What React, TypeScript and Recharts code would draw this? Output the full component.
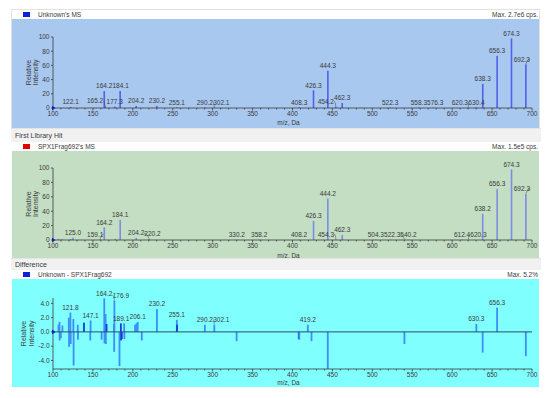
import React from 'react';
import { BarChart, Bar, XAxis, YAxis, LabelList, ReferenceLine, ReferenceDot } from 'recharts';

// ---------------- data ----------------
const unknownMz = [122.1, 164.2, 165.2, 177.3, 184.1, 204.2, 230.2, 255.1, 290.2, 302.1, 408.3, 426.3, 444.3, 454.2, 462.3, 522.3, 558.3, 576.3, 620.3, 630.4, 638.3, 656.3, 674.3, 692.3];
const unknownIntensity = [1.5, 24, 3, 2, 24, 3, 3, 0.8, 0.6, 0.6, 0.8, 25, 52.5, 2, 7, 0.6, 0.6, 0.6, 0.6, 0.8, 34, 73.5, 98, 61.5];
const unknownLabels = ['122.1', '164.2', '165.2', '177.3', '184.1', '204.2', '230.2', '255.1', '290.2', '302.1', '408.3', '426.3', '444.3', '454.2', '462.3', '522.3', '558.3', '576.3', '620.3', '630.4', '638.3', '656.3', '674.3', '692.3'];

const libraryMz = [107.0, 111.0, 122.0, 125.0, 159.1, 164.2, 178.0, 184.1, 204.2, 220.2, 330.2, 358.2, 408.2, 426.3, 444.2, 454.3, 462.3, 504.3, 522.3, 540.2, 612.4, 620.3, 638.2, 656.3, 674.3, 692.3];
const libraryIntensity = [1.5, 1.2, 1.5, 3.3, 1, 17.7, 1.5, 28, 3, 2, 0.5, 0.5, 0.5, 26.5, 57.6, 1, 7, 0.5, 0.5, 0.5, 0.5, 0.5, 36.3, 70.7, 98, 64.2];
const libraryLabels = ['125.0', '159.1', '164.2', '184.1', '204.2', '220.2', '330.2', '358.2', '408.2', '426.3', '444.2', '454.3', '462.3', '504.3', '522.3', '540.2', '612.4', '620.3', '638.2', '656.3', '674.3', '692.3'];

const diffMz = [106.9, 108.1, 108.3, 109.8, 111.8, 119.8, 120.1, 121.8, 122.2, 125.5, 125.8, 131.0, 131.3, 146.7, 147.1, 160.9, 164.2, 164.5, 165.9, 166.2, 176.3, 176.6, 176.9, 183.3, 189.1, 189.4, 202.8, 204.5, 206.1, 211.2, 230.2, 255.1, 290.2, 302.1, 330.0, 408.5, 419.2, 423.8, 444.2, 540.2, 630.3, 638.2, 656.3, 692.3];
const diffValue = [1.0, 1.4, -1.2, -0.9, 0.9, 2.0, -2.1, 2.7, -1.7, 1.8, -4.7, 1.0, -1.1, -1.2, 1.6, -1.1, 4.7, -1.6, 2.5, -1.7, 1.1, -2.8, 4.4, -4.8, 1.2, -1.0, 1.0, 1.2, 1.4, -1.2, 3.2, 1.7, 1.0, 1.0, -1.3, -1.1, 1.0, -1.3, -5.2, -1.7, 1.1, -2.9, 3.4, -3.4];
const diffLabels = ['121.8', '147.1', '164.2', '176.9', '189.1', '206.1', '230.2', '255.1', '290.2', '302.1', '419.2', '630.3', '656.3'];
const overlapMz = [138.8, 167.1, 185.0, 185.3, 186.2, 255.4, 407.9];
const overlapValue = [1.3, 1.1, 1.2, -1.2, -1.0, 1.0, -1.0];

const xMajorTicks = [100, 150, 200, 250, 300, 350, 400, 450, 500, 550, 600, 650, 700];
const xMinorStep = 10;
const intensityTicks = [0, 20, 40, 60, 80, 100];
const diffTicks = [-4, -2, 0, 2, 4];

// ---------------- layout ----------------
const X_MIN = 100;
const X_MAX = 700;
const CHART_W = 527;
const Y_AXIS_W = 41;
const MARGIN_R = 7;
const PLOT_W = CHART_W - Y_AXIS_W - MARGIN_R;
const FONT = 'Arial, "Liberation Sans", sans-serif';
const AXIS = '#3a3a3a';
const TEXT = '#3a3a3a';

const xTicks: number[] = [];
for (let v = X_MIN; v <= X_MAX; v += xMinorStep) xTicks.push(v);

type Row = { mz: number; value: number; label: string; overlap: boolean };

function buildRows(mz: number[], val: number[], labels: string[], overlap = false): Row[] {
  return mz.map((m, i) => {
    const s = m.toFixed(1);
    return { mz: m, value: val[i], label: labels.includes(s) ? s : '', overlap };
  });
}

function textWidth(s: string, fs = 6.5) {
  let w = 0;
  for (const ch of s) w += ch === '.' || ch === ',' ? 0.278 : 0.556;
  return w * fs;
}

// label placement: avoid other labels and bars standing right next to the own peak
function layoutLabels(rows: Row[], sy: number): Map<string, number> {
  const sx = PLOT_W / (X_MAX - X_MIN);
  const px = (m: number) => (m - X_MIN) * sx;
  const bars = rows.map((r, i) => ({ i, x: px(r.mz), top: Math.max(r.value, 0) * sy }));
  const placed: { l: number; r: number; b: number; t: number }[] = [];
  const out = new Map<string, number>();
  const candidates: { s: number; c: number }[] = [{ s: 0, c: 0 }];
  for (let k = 0.5; k <= 30; k += 0.5) {
    candidates.push({ s: -k, c: k });
    candidates.push({ s: k, c: k + 3 });
  }
  candidates.sort((a, b) => a.c - b.c);
  const order = rows
    .map((_, i) => i)
    .filter((i) => rows[i].label)
    .sort((a, b) => rows[b].value - rows[a].value || a - b);
  for (const i of order) {
    const r = rows[i];
    const cx = px(r.mz);
    const w = textWidth(r.label);
    const mid = Math.max(r.value, 0) * sy + 5;
    const b = mid - 3;
    const t = mid + 3;
    const near = bars.filter((bb) => bb.i !== i && Math.abs(bb.x - cx) < 5 && bb.top > b);
    const fits = (s: number, withBars: boolean) => {
      const l = cx + s - w / 2;
      const rr = cx + s + w / 2;
      if (rr > PLOT_W - 2 || l < 0) return false;
      if (placed.some((p) => l < p.r && rr > p.l && b < p.t && t > p.b)) return false;
      if (withBars && near.some((bb) => bb.x > l - 0.6 && bb.x < rr + 0.6)) return false;
      return true;
    };
    let chosen: number | null = null;
    for (const withBars of [true, false]) {
      for (const cand of candidates) {
        if (fits(cand.s, withBars)) {
          chosen = cand.s;
          break;
        }
      }
      if (chosen !== null) break;
    }
    const s = chosen ?? 0;
    out.set(r.label, s);
    placed.push({ l: cx + s - w / 2, r: cx + s + w / 2, b, t });
  }
  return out;
}

const XTick = (p: any) => {
  const { x, y, payload } = p;
  const v = payload.value;
  const major = xMajorTicks.includes(v);
  return (
    <g>
      <line x1={x} x2={x} y1={y} y2={y + (major ? 2.5 : 1.5)} stroke={AXIS} strokeWidth={0.8} />
      {major && (
        <text x={x} y={y + 8.3} textAnchor="middle" fontSize={6.5} fill={TEXT} fontFamily={FONT}>
          {v}
        </text>
      )}
    </g>
  );
};

type PanelProps = {
  rows: Row[];
  top: number;
  height: number;
  marginTop: number;
  xAxisH: number;
  bg: string;
  color: string;
  overlapColor?: string;
  barW: number;
  domain: [number, number];
  yTicks: number[];
  yFmt: (v: number) => string;
  yLabelOffsets: [number, number];
  xLabelDy: number;
  zeroLine?: boolean;
};

function SpectrumPanel(props: PanelProps) {
  const { rows, top, height, marginTop, xAxisH, bg, color, overlapColor, barW, domain, yTicks, yFmt, yLabelOffsets, xLabelDy, zeroLine } = props;
  const plotH = height - marginTop - xAxisH;
  const sy = plotH / (domain[1] - domain[0]);
  const dxMap = layoutLabels(rows, sy);

  const shape = (p: any) => {
    const x = Number(p.x);
    const w = Number(p.width) || 0;
    const y = Number(p.y);
    const h = Number(p.height) || 0;
    if (!isFinite(x) || !isFinite(y)) return <g />;
    const cx = x + w / 2;
    const topY = Math.min(y, y + h);
    const hh = Math.max(Math.abs(h), 0.6);
    const c = p.payload && p.payload.overlap && overlapColor ? overlapColor : color;
    return <rect x={cx - barW / 2} y={topY} width={barW} height={hh} fill={c} />;
  };

  const labelContent = (p: any) => {
    const value = p.value;
    if (!value) return null;
    const vb = p.viewBox && p.viewBox.x !== undefined ? p.viewBox : p;
    const x = Number(vb.x ?? p.x);
    const w = Number(vb.width ?? p.width) || 0;
    const y = Number(vb.y ?? p.y);
    const h = Number(vb.height ?? p.height) || 0;
    if (!isFinite(x) || !isFinite(y)) return null;
    const cx = x + w / 2;
    const topY = Math.min(y, y + h);
    const dx = dxMap.get(value) ?? 0;
    const tx = cx + dx;
    const ty = topY - 2.7;
    const tw = textWidth(value);
    let leader = null;
    if (Math.abs(dx) > 3) {
      const ex = dx < 0 ? tx + tw / 2 + 0.3 : tx - tw / 2 - 0.3;
      leader = (
        <path
          d={`M${ex},${ty - 2.2} Q${(ex + cx) / 2},${ty - 3.2} ${cx},${topY - 0.4}`}
          fill="none"
          stroke="#555"
          strokeWidth={0.6}
        />
      );
    }
    return (
      <g>
        {leader}
        <text x={tx} y={ty} textAnchor="middle" fontSize={6.5} fill={TEXT} fontFamily={FONT}>
          {value}
        </text>
      </g>
    );
  };

  const yLabel = (p: any) => {
    const vb = p.viewBox || { x: 0, y: marginTop, width: Y_AXIS_W, height: plotH };
    const cy = vb.y + vb.height / 2;
    return (
      <g>
        {['Relative', 'Intensity'].map((t, i) => {
          const lx = vb.x + yLabelOffsets[i];
          return (
            <text
              key={t}
              x={lx}
              y={cy}
              transform={`rotate(-90 ${lx} ${cy})`}
              textAnchor="middle"
              dominantBaseline="central"
              fontSize={7}
              fill={TEXT}
              fontFamily={FONT}
            >
              {t}
            </text>
          );
        })}
      </g>
    );
  };

  const xLabel = (p: any) => {
    const vb = p.viewBox || { x: Y_AXIS_W, y: marginTop + plotH, width: PLOT_W, height: xAxisH };
    return (
      <text x={vb.x + vb.width / 2 - 4} y={vb.y + xLabelDy} textAnchor="middle" fontSize={6.5} fill={TEXT} fontFamily={FONT}>
        m/z, Da
      </text>
    );
  };

  return (
    <div style={{ position: 'absolute', left: 12, top, width: CHART_W, height, background: bg }}>
      <BarChart width={CHART_W} height={height} data={rows} margin={{ top: marginTop, right: MARGIN_R, bottom: 0, left: 0 }}>
        <XAxis
          type="number"
          dataKey="mz"
          domain={[X_MIN, X_MAX]}
          ticks={xTicks}
          interval={0}
          tickLine={false}
          tickSize={0}
          tickMargin={0}
          tick={(tp: any) => <XTick {...tp} />}
          axisLine={{ stroke: AXIS, strokeWidth: 0.8 }}
          height={xAxisH}
          allowDataOverflow
          label={xLabel}
        />
        <YAxis
          type="number"
          domain={domain}
          ticks={yTicks}
          interval={0}
          width={Y_AXIS_W}
          tickSize={2}
          tickMargin={1.5}
          tickFormatter={yFmt}
          tick={{ fontSize: 6.5, fill: TEXT, fontFamily: FONT }}
          axisLine={{ stroke: AXIS, strokeWidth: 0.8 }}
          tickLine={{ stroke: AXIS, strokeWidth: 0.8 }}
          allowDataOverflow
          label={yLabel}
        />
        {zeroLine && <ReferenceLine y={0} stroke="#2c4a64" strokeWidth={1} />}
        <Bar dataKey="value" isAnimationActive={false} shape={shape}>
          <LabelList dataKey="label" content={labelContent} />
        </Bar>
        <ReferenceDot
          x={X_MIN}
          y={0}
          r={2}
          ifOverflow="visible"
          shape={(p: any) => (
            <polygon
              points={`${p.cx - 1},${p.cy - 2.3} ${p.cx + 2.6},${p.cy} ${p.cx - 1},${p.cy + 2.3}`}
              fill="#0a20d0"
            />
          )}
        />
      </BarChart>
    </div>
  );
}

function Header({ top, swatch, title, max }: { top: number; swatch: string; title: string; max: string }) {
  return (
    <div style={{ position: 'absolute', left: 12, top, width: 527, height: 9, background: '#fff' }}>
      <div style={{ position: 'absolute', left: 10.5, top: 2.3, width: 7, height: 5, background: swatch }} />
      <div style={{ position: 'absolute', left: 26, top: 0, lineHeight: '9px', fontSize: 6.5, color: TEXT, whiteSpace: 'nowrap' }}>{title}</div>
      <div style={{ position: 'absolute', right: 1, top: 0, lineHeight: '9px', fontSize: 6.5, color: TEXT, whiteSpace: 'nowrap' }}>{max}</div>
    </div>
  );
}

function Band({ top, height, text }: { top: number; height: number; text: string }) {
  return (
    <div style={{ position: 'absolute', left: 11, top, width: 530, height, background: '#f1f1f1', borderTop: '1px solid #e4e4e4', boxSizing: 'border-box' }}>
      <div style={{ position: 'absolute', left: 4, top: 0, lineHeight: `${height}px`, fontSize: 7, color: TEXT, whiteSpace: 'nowrap' }}>{text}</div>
    </div>
  );
}

const unknownRows = buildRows(unknownMz, unknownIntensity, unknownLabels);
const libraryRows = buildRows(libraryMz, libraryIntensity, libraryLabels);
const diffRows = [...buildRows(diffMz, diffValue, diffLabels), ...buildRows(overlapMz, overlapValue, [], true)].sort((a, b) => a.mz - b.mz);

export default function App() {
  return (
    <div style={{ position: 'absolute', left: 0, top: 0, width: 550, height: 398, background: '#fff', fontFamily: FONT, overflow: 'hidden' }}>
      <div style={{ position: 'absolute', left: 11, top: 9, width: 529, height: 120, border: '1px solid #e2e2e2', boxSizing: 'border-box' }} />
      <Header top={10} swatch="#1020d8" title="Unknown's MS" max="Max. 2.7e6 cps." />
      <SpectrumPanel
        rows={unknownRows}
        top={19}
        height={109}
        marginTop={18}
        xAxisH={20}
        bg="#a9c8f0"
        color="#4f62e8"
        barW={1.6}
        domain={[0, 100]}
        yTicks={intensityTicks}
        yFmt={(v) => String(v)}
        yLabelOffsets={[16.5, 23.5]}
        xLabelDy={17.3}
      />
      <Band top={128} height={14} text="First Library Hit" />
      <Header top={142} swatch="#e00000" title="SPX1Frag692's MS" max="Max. 1.5e5 cps." />
      <SpectrumPanel
        rows={libraryRows}
        top={151}
        height={107}
        marginTop={17}
        xAxisH={18}
        bg="#c3dec3"
        color="#7d8ee4"
        barW={1.6}
        domain={[0, 100]}
        yTicks={intensityTicks}
        yFmt={(v) => String(v)}
        yLabelOffsets={[16.5, 23]}
        xLabelDy={18}
      />
      <Band top={258} height={12} text="Difference" />
      <Header top={270} swatch="#1020d8" title="Unknown - SPX1Frag692" max="Max. 5.2%" />
      <SpectrumPanel
        rows={diffRows}
        top={279}
        height={108}
        marginTop={19}
        xAxisH={18}
        bg="#80ffff"
        color="#3d8ef5"
        overlapColor="#1a3cd6"
        barW={1.8}
        domain={[-5.2, 4.75]}
        yTicks={diffTicks}
        yFmt={(v) => v.toFixed(1)}
        yLabelOffsets={[11.5, 19.5]}
        xLabelDy={15.6}
        zeroLine
      />
    </div>
  );
}
